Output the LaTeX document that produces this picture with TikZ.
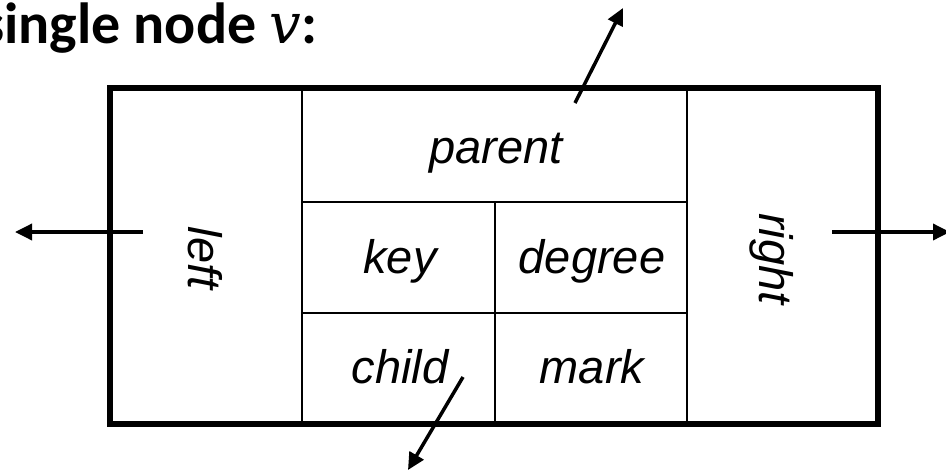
\documentclass[tikz,border=0pt]{standalone}
\usepackage{fontspec}
\setmainfont{Liberation Sans}
\newfontfamily\titlefont{Carlito}
\newfontfamily\varfont{DejaVu Serif}
\usetikzlibrary{arrows.meta}

\tikzset{
  frame/.style={line width=5.5pt},
  grid/.style={line width=2.5pt},
  field/.style={font=\fontsize{47}{47}\selectfont\itshape, inner sep=0pt, anchor=base},
  ptr/.style={line width=3.5pt, -{Triangle[length=17pt,width=16pt]}},
}

\begin{document}
\begin{tikzpicture}[x=1pt,y=-1pt]
\useasboundingbox (0,0) rectangle (946,472);
\node[anchor=base west, inner sep=0pt, font=\titlefont\bfseries\fontsize{58}{58}\selectfont] (title) at (-19,43) {single node {\varfont\mdseries\itshape\fontsize{56}{56}\selectfont v}:};

% record of the node
\draw[grid] (302,88) -- (302,424);
\draw[grid] (687,88) -- (687,424);
\draw[grid] (302,202) -- (687,202);
\draw[grid] (302,313) -- (687,313);
\draw[grid] (495,202) -- (495,424);
\draw[frame] (110,88) rectangle (878,424);

\node[field] (parent) at (496,163) {parent};
\node[field] (key) at (400,273) {key};
\node[field] (degree) at (592,273) {degree};
\node[field] (child) at (400,383) {child};
\node[field] (mark) at (592,383) {mark};
\node[field, rotate=-90] (left) at (188,258) {left};
\node[field, rotate=-90] (right) at (759,259) {right};

% pointers
\coordinate (lfrom) at (143,232);
\coordinate (lto) at (15,232);
\coordinate (rfrom) at (832,232);
\coordinate (rto) at (950,232);
\coordinate (pfrom) at (575,103);
\coordinate (pto) at (623,8);
\coordinate (cfrom) at (463,377);
\coordinate (cto) at (408,470);
\draw[ptr] (lfrom) -- (lto);
\draw[ptr] (rfrom) -- (rto);
\draw[ptr] (pfrom) -- (pto);
\draw[ptr] (cfrom) -- (cto);
\end{tikzpicture}
\end{document}
